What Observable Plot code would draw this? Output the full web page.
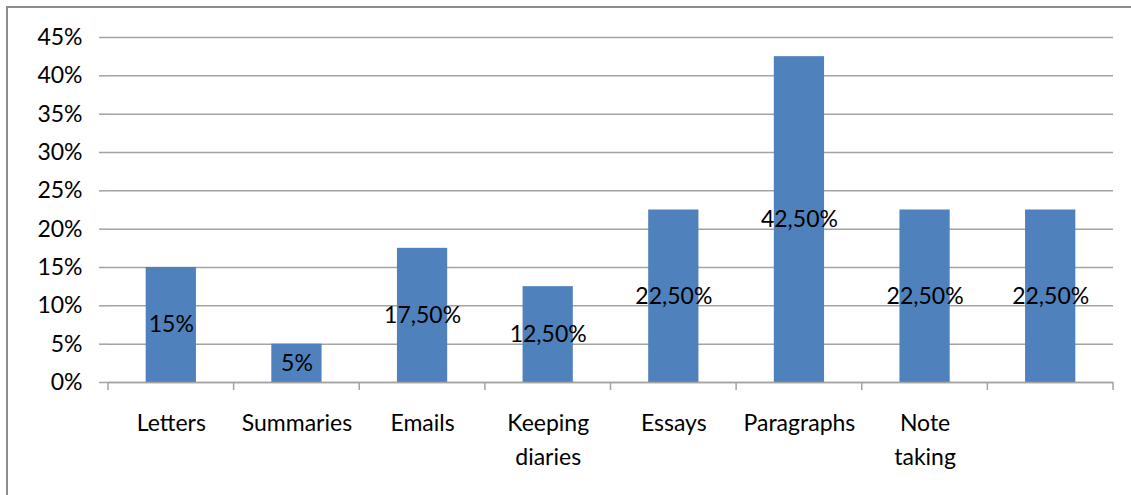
<!DOCTYPE html>
<html>
<head>
<meta charset="utf-8">
<script src="https://cdn.jsdelivr.net/npm/d3@7"></script>
<script src="https://cdn.jsdelivr.net/npm/@observablehq/plot@0.6"></script>
<style>
  html, body { margin: 0; padding: 0; background: #fff; }
  #wrap { position: relative; width: 1131px; height: 495px; overflow: hidden; }
  #frame { position: absolute; left: 6px; top: 6px; width: 1140px; height: 500px;
           border-left: 2px solid #8c8c8c; border-top: 2px solid #8c8c8c; box-sizing: border-box; pointer-events: none; }
  svg { display: block; }
</style>
</head>
<body>
<div id="wrap"><div id="chart"></div><div id="frame"></div></div>
<script>
const keys = ["c1","c2","c3","c4","c5","c6","c7","c8"];
const categories = ["Letters","Summaries","Emails","Keeping\ndiaries","Essays","Paragraphs","Note\ntaking",""];
const values = [15, 5, 17.5, 12.5, 22.5, 42.5, 22.5, 22.5];
const yTicks = [0, 5, 10, 15, 20, 25, 30, 35, 40, 45];

const data = keys.map((k, i) => ({key: k, label: categories[i], value: values[i]}));
const fmtVal = v => (Number.isInteger(v) ? String(v) : v.toFixed(2).replace(".", ",")) + "%";
const labelOf = Object.fromEntries(keys.map((k, i) => [k, categories[i]]));

const W = 1131, H = 495, ML = 108, MR = 18, MT = 37, MB = 113;
const FONT = "Lato, 'Open Sans', sans-serif";
const GRID = "#a3a3a3";
const FS = 23;

// boundary ticks below the category axis, drawn from the band scale
function boundaryTicks(index, scales, values, dims) {
  const x = scales.x, y = scales.y;
  const step = typeof x.step === "function" ? x.step() : (dims.width - dims.marginLeft - dims.marginRight) / keys.length;
  const bw = typeof x.bandwidth === "function" ? x.bandwidth() : x.bandwidth;
  const g = d3.create("svg:g").attr("stroke", GRID).attr("stroke-width", 1.5);
  const y0 = y(0);
  const xs = keys.map(k => x(k) + bw / 2 - step / 2);
  xs.push(x(keys[keys.length - 1]) + bw / 2 + step / 2);
  for (const px of xs) {
    g.append("line").attr("x1", px).attr("x2", px).attr("y1", y0).attr("y2", y0 + 8);
  }
  return g.node();
}

const plot = Plot.plot({
  width: W, height: H,
  marginLeft: ML, marginRight: MR, marginTop: MT, marginBottom: MB,
  style: {fontFamily: FONT, fontSize: FS + "px", color: "#000", background: "#fff"},
  x: {domain: keys, paddingInner: 0.6, paddingOuter: 0.3, round: false},
  y: {domain: [0, 45]},
  marks: [
    Plot.gridY(yTicks, {stroke: GRID, strokeOpacity: 1, strokeWidth: 1.5}),
    Plot.axisY(yTicks, {tickSize: 9, tickPadding: 17, stroke: GRID, strokeWidth: 1.5, strokeOpacity: 1,
      tickFormat: d => d + "%", fontSize: FS, fill: "#000", label: null}),
    Plot.ruleX([0], {x: () => 0, frameAnchor: "left", stroke: GRID, strokeWidth: 1.5}),
    Plot.barY(data, {x: "key", y: "value", fill: "#4f81bd"}),
    Plot.ruleY([0], {stroke: GRID, strokeWidth: 1.5}),
    boundaryTicks,
    Plot.axisX({tickSize: 0, tickPadding: 24, tickFormat: k => labelOf[k], fontSize: FS, fill: "#000",
      lineHeight: 1.48, label: null}),
    Plot.text(data, {x: "key", y: d => d.value / 2, text: d => fmtVal(d.value), fontSize: FS, fill: "#000"})
  ]
});
document.getElementById("chart").appendChild(plot);
</script>
</body>
</html>
